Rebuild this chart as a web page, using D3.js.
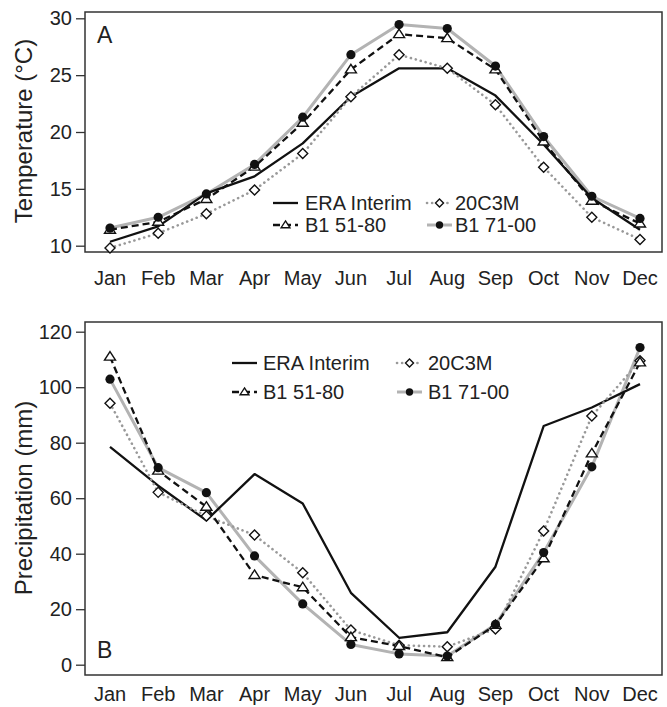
<!DOCTYPE html>
<html>
<head>
<meta charset="utf-8">
<script src="https://cdn.jsdelivr.net/npm/d3@7"></script>
<style>
  body { margin: 0; background: #fff; }
  text { font-family: "Liberation Sans", Arial, sans-serif; fill: #222; }
</style>
</head>
<body>
<svg id="chart"></svg>
<script>
const months = ["Jan", "Feb", "Mar", "Apr", "May", "Jun", "Jul", "Aug", "Sep", "Oct", "Nov", "Dec"];

// Panel A: temperature (deg C)
const tempEra   = [10.35, 11.7, 14.6, 16.1, 19.0, 23.1, 25.6, 25.6, 23.2, 18.9, 14.2, 11.4];
const temp20c   = [9.8, 11.1, 12.8, 14.9, 18.1, 23.1, 26.8, 25.6, 22.4, 16.9, 12.5, 10.55];
const temp5180  = [11.4, 12.1, 14.1, 16.95, 20.8, 25.5, 28.6, 28.25, 25.5, 19.15, 13.95, 11.95];
const temp7100  = [11.55, 12.5, 14.55, 17.15, 21.3, 26.8, 29.45, 29.1, 25.8, 19.6, 14.35, 12.4];

// Panel B: precipitation (mm)
const precEra   = [78.5, 64.5, 52, 68.7, 58.1, 25.9, 9.7, 11.7, 35.3, 86.0, 92.7, 101.1];
const prec20c   = [94.2, 62.1, 53.6, 46.7, 33.1, 12.5, 7.0, 6.5, 12.9, 48.2, 89.6, 109.5];
const prec5180  = [111, 69.9, 56.9, 32.3, 27.9, 9.9, 6.7, 2.7, 14.3, 38.3, 76.1, 108.9];
const prec7100  = [102.9, 71.0, 62.0, 39.2, 21.9, 7.3, 3.9, 3.1, 14.5, 40.4, 71.3, 114.3];

const tempTicks = [10, 15, 20, 25, 30];
const precTicks = [0, 20, 40, 60, 80, 100, 120];
const seriesNames = ["ERA Interim", "20C3M", "B1 51-80", "B1 71-00"];

const W = 667, H = 707;
const svg = d3.select("#chart").attr("width", W).attr("height", H);

const x = d3.scalePoint().domain(months).range([110, 640]);

const styles = {
  "ERA Interim": { stroke: "#111", width: 2.3, dash: null, cap: "butt", marker: null },
  "20C3M":       { stroke: "#999", width: 2.6, dash: "0.1,5", cap: "round", marker: "diamond" },
  "B1 51-80":    { stroke: "#111", width: 2.3, dash: "7,4", cap: "butt", marker: "triangle" },
  "B1 71-00":    { stroke: "#b3b3b3", width: 3, dash: null, cap: "butt", marker: "dot" }
};

function drawMarker(g, type, cx, cy, s) {
  if (type === "diamond") {
    g.append("path")
      .attr("d", `M${cx},${cy - s}L${cx + s},${cy}L${cx},${cy + s}L${cx - s},${cy}Z`)
      .attr("fill", "#fff").attr("stroke", "#111").attr("stroke-width", 1.4);
  } else if (type === "triangle") {
    const h = s * 1.7;
    g.append("path")
      .attr("d", `M${cx},${cy - h * 0.6}L${cx + s * 1.1},${cy + h * 0.4}L${cx - s * 1.1},${cy + h * 0.4}Z`)
      .attr("fill", "#fff").attr("stroke", "#111").attr("stroke-width", 1.4);
  } else if (type === "dot") {
    g.append("circle").attr("cx", cx).attr("cy", cy).attr("r", s * 0.92).attr("fill", "#111");
  }
}

function panel(opts) {
  const g = svg.append("g");
  const y = d3.scaleLinear().domain(opts.domain).range(opts.yrange);

  // frame
  g.append("rect")
    .attr("x", 85).attr("y", opts.top)
    .attr("width", 662 - 85).attr("height", opts.bottom - opts.top)
    .attr("fill", "none").attr("stroke", "#333").attr("stroke-width", 1.5);

  // y axis
  const yAxis = d3.axisLeft(y).tickValues(opts.ticks).tickSize(9).tickPadding(4);
  const ya = g.append("g").attr("transform", "translate(85,0)").call(yAxis);
  ya.select(".domain").remove();
  ya.selectAll(".tick line").attr("stroke", "#333").attr("stroke-width", 1.3);
  ya.selectAll(".tick text").attr("font-size", 20).attr("fill", "#222")
    .style("font-family", '"Liberation Sans", Arial, sans-serif');

  // month labels
  g.selectAll(".mlab").data(months).enter().append("text")
    .attr("x", d => x(d)).attr("y", opts.labelY)
    .attr("text-anchor", "middle").attr("font-size", 20).text(d => d);

  // y title
  g.append("text")
    .attr("transform", `translate(24,${opts.titleY}) rotate(-90)`)
    .attr("text-anchor", "middle").attr("dy", "0.35em")
    .attr("font-size", 24).text(opts.title);

  // panel letter
  g.append("text").attr("x", 97).attr("y", opts.letterY)
    .attr("font-size", 23).text(opts.letter);

  const line = d3.line().x((d, i) => x(months[i])).y(d => y(d));

  const order = ["B1 71-00", "ERA Interim", "20C3M", "B1 51-80"];
  order.forEach(name => {
    const st = styles[name];
    g.append("path").datum(opts.series[name])
      .attr("d", line).attr("fill", "none")
      .attr("stroke", st.stroke).attr("stroke-width", st.width)
      .attr("stroke-dasharray", st.dash).attr("stroke-linecap", st.cap)
      .attr("stroke-linejoin", "round");
  });
  ["20C3M", "B1 51-80", "B1 71-00"].forEach(name => {
    opts.series[name].forEach((v, i) => drawMarker(g, styles[name].marker, x(months[i]), y(v), 5));
  });

  // legend
  const L = opts.legend;
  seriesNames.forEach((name, k) => {
    const col = k % 2, row = Math.floor(k / 2);
    const x0 = L.cols[col], yy = L.rows[row];
    const st = styles[name];
    g.append("line").attr("x1", x0).attr("x2", x0 + 25).attr("y1", yy).attr("y2", yy)
      .attr("stroke", st.stroke).attr("stroke-width", st.width)
      .attr("stroke-dasharray", st.dash).attr("stroke-linecap", st.cap);
    if (st.marker) drawMarker(g, st.marker, x0 + 12.5, yy, 4);
    g.append("text").attr("x", x0 + L.textOff[col]).attr("y", yy).attr("dy", "0.35em")
      .attr("font-size", 20).text(name);
  });
}

panel({
  domain: [10, 30], yrange: [245.7, 18.3], top: 12, bottom: 252, ticks: tempTicks,
  title: "Temperature (°C)", titleY: 131, letter: "A", letterY: 43, labelY: 285,
  series: { "ERA Interim": tempEra, "20C3M": temp20c, "B1 51-80": temp5180, "B1 71-00": temp7100 },
  legend: { cols: [273, 427], rows: [203, 225], textOff: [32, 28] }
});

panel({
  domain: [0, 120], yrange: [664.7, 331.7], top: 322, bottom: 675, ticks: precTicks,
  title: "Precipitation (mm)", titleY: 498, letter: "B", letterY: 658, labelY: 701,
  series: { "ERA Interim": precEra, "20C3M": prec20c, "B1 51-80": prec5180, "B1 71-00": prec7100 },
  legend: { cols: [232, 397], rows: [363, 392], textOff: [31, 31] }
});
</script>
</body>
</html>
